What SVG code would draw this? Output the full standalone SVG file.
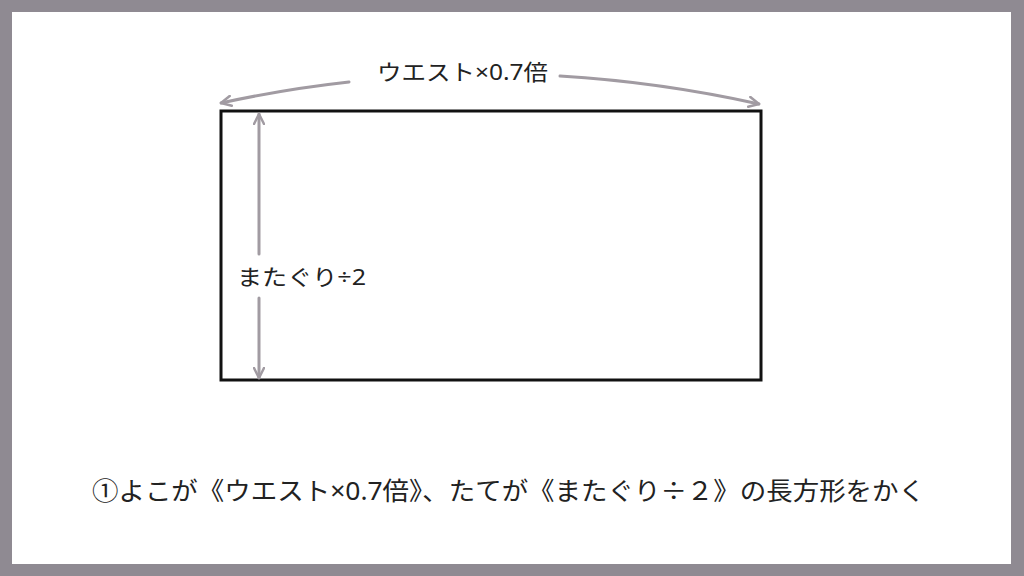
<svg xmlns="http://www.w3.org/2000/svg" width="1024" height="576" viewBox="0 0 1024 576">
<style>
.t{font-family:"Noto Sans CJK JP","Noto Sans",sans-serif;fill:#222222}
.lat{font-family:"Noto Sans","Noto Sans CJK JP",sans-serif}
.dim{fill:none;stroke:#a19ba2;stroke-width:3;stroke-linecap:round}
.box{fill:none;stroke:#111111;stroke-width:3}
</style>
<defs>
<marker id="ah" viewBox="0 0 12 12" refX="11" refY="6" markerWidth="12" markerHeight="12" markerUnits="userSpaceOnUse" orient="auto-start-reverse">
<path d="M1,1 L11,6 L1,11" fill="none" stroke="#a19ba2" stroke-width="2.5" stroke-linecap="round" stroke-linejoin="round"/>
</marker>
</defs>
<rect x="0" y="0" width="1024" height="576" fill="#8f8a92"/>
<rect x="12" y="12" width="999" height="552" fill="#ffffff"/>
<g id="rectangle">
<rect class="box" x="221" y="111" width="540" height="269"/>
</g>
<g id="connectors">
<path class="dim" d="M221,103 Q285,89 349,82" marker-start="url(#ah)"/>
<path class="dim" d="M560,76 Q660,82 759,104" marker-end="url(#ah)"/>
<path class="dim" d="M259,114 L259,254" marker-start="url(#ah)"/>
<path class="dim" d="M259,298 L259,378" marker-end="url(#ah)"/>
</g>
<g id="label-width">
<text class="t" x="377" y="80" font-size="22" textLength="171" lengthAdjust="spacingAndGlyphs">ウエスト<tspan class="lat">×0.7</tspan>倍</text>
</g>
<g id="label-height">
<text class="t" x="237" y="285" font-size="22" textLength="129" lengthAdjust="spacingAndGlyphs">またぐり<tspan class="lat">÷2</tspan></text>
</g>
<g id="caption">
<text class="t" x="92" y="500" font-size="25" textLength="833" lengthAdjust="spacingAndGlyphs">①よこが《ウエスト<tspan class="lat">×0.7</tspan>倍》、たてが《またぐり÷２》の長方形をかく</text>
</g>
</svg>
